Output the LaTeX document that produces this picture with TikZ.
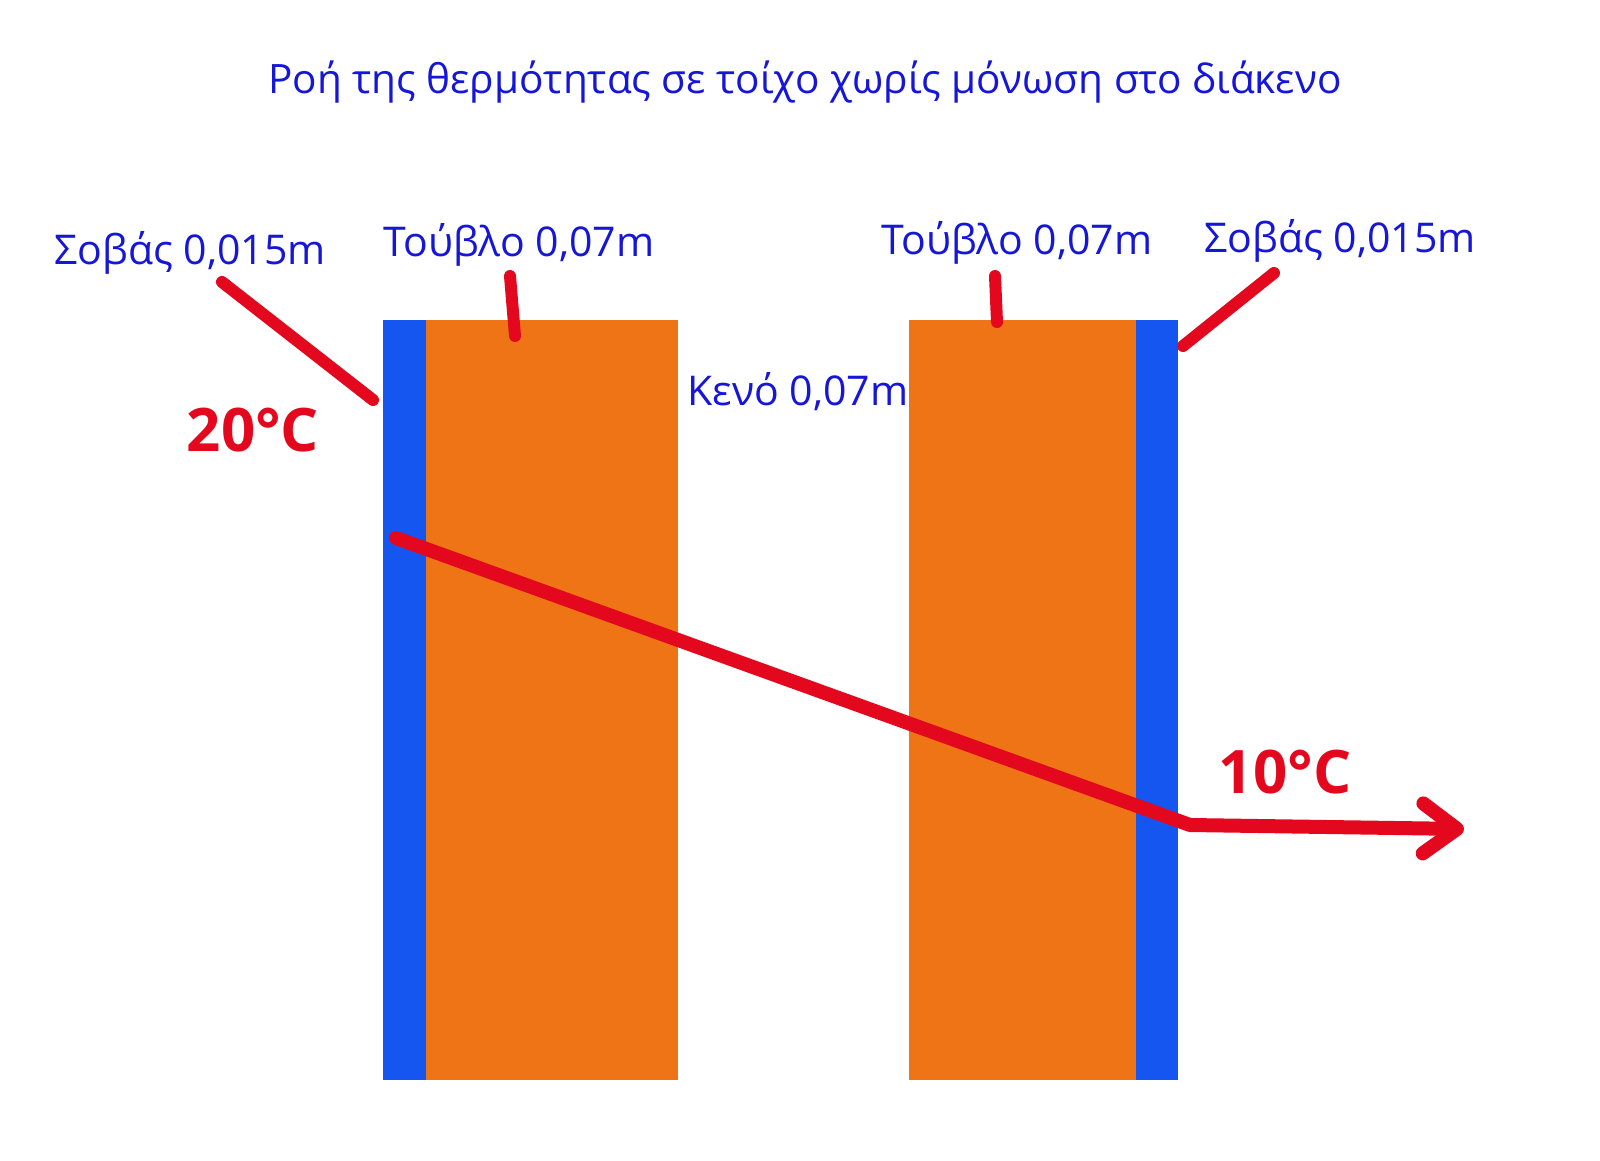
\documentclass[tikz,border=0pt]{standalone}
\usepackage{fontspec}
\setmainfont{Open Sans}
\usetikzlibrary{arrows.meta}
\definecolor{plasterblue}{RGB}{22,86,240}
\definecolor{brickorange}{RGB}{238,116,22}
\definecolor{heatred}{RGB}{228,8,30}
\definecolor{labelblue}{RGB}{22,22,214}

\begin{document}
\begin{tikzpicture}[
        x=1pt, y=-1pt,
        plaster/.style={rectangle, fill=plasterblue, inner sep=0pt, outer sep=0pt, minimum width=43pt, minimum height=760pt, anchor=north west},
        brick/.style={rectangle, fill=brickorange, inner sep=0pt, outer sep=0pt, minimum height=760pt, anchor=north west},
        layer_label/.style={text=labelblue, font=\fontsize{41}{46}\selectfont, inner sep=0pt},
        temp_label/.style={text=heatred, font=\fontsize{60}{66}\selectfont\bfseries, inner sep=0pt},
        pointer/.style={draw=heatred, line width=12pt, line cap=round},
        flow/.style={draw=heatred, line width=14pt, line cap=round, line join=round}
    ]
        \useasboundingbox (0,0) rectangle (1600,1161);

        % Title
        \node[text=labelblue, font=\fontsize{40.5}{46}\selectfont] (title) at (805,82) {Ροή της θερμότητας σε τοίχο χωρίς μόνωση στο διάκενο};

        % Wall layers
        \node[plaster] (plaster_in) at (383,320) {};
        \node[brick, minimum width=252pt] (brick_in) at (426,320) {};
        \node[brick, minimum width=227pt] (brick_out) at (909,320) {};
        \node[plaster, minimum width=42pt] (plaster_out) at (1136,320) {};

        % Layer labels
        \node[layer_label] (lbl_plaster_in) at (190,253) {Σοβάς 0,015m};
        \node[layer_label] (lbl_brick_in) at (519,245) {Τούβλο 0,07m};
        \node[layer_label] (lbl_gap) at (798,392) {Κενό 0,07m};
        \node[layer_label] (lbl_brick_out) at (1017,243) {Τούβλο 0,07m};
        \node[layer_label] (lbl_plaster_out) at (1340,241) {Σοβάς 0,015m};

        % Pointer ends
        \coordinate (p1a) at (222,282);
        \coordinate (p1b) at (373,400);
        \coordinate (p2a) at (510,276);
        \coordinate (p2b) at (515,336);
        \coordinate (p3a) at (995,276);
        \coordinate (p3b) at (997,322);
        \coordinate (p4a) at (1274,273);
        \coordinate (p4b) at (1183,346);

        \draw[pointer] (p1a) -- (p1b);
        \draw[pointer] (p2a) -- (p2b);
        \draw[pointer] (p3a) -- (p3b);
        \draw[pointer] (p4a) -- (p4b);

        % Temperatures
        \node[temp_label] (t_in) at (253,430) {20°C};
        \node[temp_label] (t_out) at (1285,772) {10°C};

        % Heat flow
        \coordinate (flow_start) at (396,538);
        \coordinate (flow_bend) at (1190,825);
        \coordinate (flow_end) at (1464,829);
        \draw[flow, -{Straight Barb[round, length=34pt, width=50pt]}] (flow_start) -- (flow_bend) -- (flow_end);

    \end{tikzpicture}
\end{document}
